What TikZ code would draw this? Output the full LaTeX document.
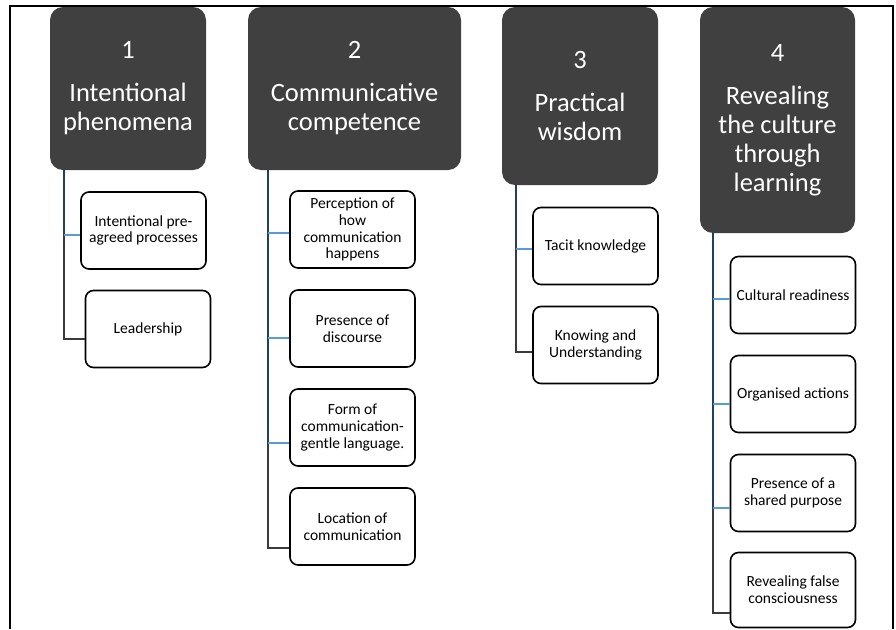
\documentclass[tikz,border=0pt]{standalone}
\usepackage{fontspec}
\setmainfont{Carlito}
\usetikzlibrary{calc}
\definecolor{headfill}{HTML}{404040}
\definecolor{branchblue}{HTML}{5B9BD5}
\definecolor{trunkblue}{HTML}{22405E}
\definecolor{trunkgrey}{HTML}{3A3A3A}
\tikzset{
  headbox/.style={rectangle, rounded corners=13pt, fill=headfill, draw=none,
    text=white, align=center, font=\fontsize{26.5}{29}\selectfont, inner sep=0pt},
  itembox/.style={rectangle, rounded corners=8pt, draw=black, line width=1.6pt,
    fill=white, align=center, font=\fontsize{15.5}{16.8}\selectfont,
    minimum width=125pt, minimum height=77pt, inner sep=0pt},
  trunk/.style={draw=trunkgrey, line width=1.2pt},
  trunkup/.style={draw=trunkblue, line width=1.3pt},
  twig/.style={draw=branchblue, line width=1.5pt},
  frame/.style={draw=black, line width=1.4pt}
}
\begin{document}
\begin{tikzpicture}[x=1pt,y=-1pt]
\useasboundingbox (0,0) rectangle (896,629);
\fill[white] (0,0) rectangle (896,629);

% outer frame (open at the bottom)
\draw[frame] (10,629) -- (10,6) -- (893,6) -- (893,629);

% category headers
\node[headbox, minimum width=156pt, minimum height=163pt] (h1) at (128,88.5)
  {1\\[14pt]Intentional\\phenomena};
\node[headbox, minimum width=213pt, minimum height=163pt] (h2) at (354.5,88.5)
  {2\\[14pt]Communicative\\competence};
\node[headbox, minimum width=156pt, minimum height=178pt] (h3) at (580,96)
  {3\\[14pt]Practical\\wisdom};
\node[headbox, minimum width=155pt, minimum height=226pt] (h4) at (777.5,120)
  {4\\[14pt]Revealing\\the culture\\through\\learning};

% items under header 1
\node[itembox] (a1) at (143.5,230.5) {Intentional pre-\\agreed processes};
\node[itembox] (a2) at (148,329) {Leadership};

% items under header 2
\node[itembox] (b1) at (352.5,229.5) {Perception of\\how\\communication\\happens};
\node[itembox] (b2) at (352.5,328.5) {Presence of\\discourse};
\node[itembox] (b3) at (352.5,427.5) {Form of\\communication-\\gentle language.};
\node[itembox] (b4) at (352.5,526.5) {Location of\\communication};

% items under header 3
\node[itembox] (c1) at (595.5,246) {Tacit knowledge};
\node[itembox] (c2) at (595.5,345) {Knowing and\\Understanding};

% items under header 4
\node[itembox] (d1) at (793,295) {Cultural readiness};
\node[itembox] (d2) at (793,394) {Organised actions};
\node[itembox] (d3) at (793,493) {Presence of a\\shared purpose};
\node[itembox, minimum height=75pt] (d4) at (793,590) {Revealing false\\consciousness};

% trunk x positions
\coordinate (t1) at (64,0);
\coordinate (t2) at (268,0);
\coordinate (t3) at (516,0);
\coordinate (t4) at (713,0);

% connectors, header 1
\draw[trunk] (h1.south -| t1) |- ($(a2.west)+(0,10)$);
\draw[trunkup] (h1.south -| t1) -- ($(a1.west -| t1)+(0,4.5)$);
\draw[twig] ($(a1.west -| t1)+(0,4.5)$) -- ($(a1.west)+(0,4.5)$);

% connectors, header 2
\draw[trunk] (h2.south -| t2) |- ($(b4.west)+(0,21.5)$);
\draw[trunkup] (h2.south -| t2) -- ($(b3.west -| t2)+(0,15.5)$);
\draw[twig] ($(b1.west -| t2)+(0,3.5)$) -- ($(b1.west)+(0,3.5)$);
\draw[twig] ($(b2.west -| t2)+(0,9.5)$) -- ($(b2.west)+(0,9.5)$);
\draw[twig] ($(b3.west -| t2)+(0,15.5)$) -- ($(b3.west)+(0,15.5)$);

% connectors, header 3
\draw[trunk] (h3.south -| t3) |- ($(c2.west)+(0,7)$);
\draw[trunkup] (h3.south -| t3) -- ($(c1.west -| t3)+(0,3)$);
\draw[twig] ($(c1.west -| t3)+(0,3)$) -- ($(c1.west)+(0,3)$);

% connectors, header 4
\draw[trunk] (h4.south -| t4) |- ($(d4.west)+(0,23)$);
\draw[trunkup] (h4.south -| t4) -- ($(d3.west -| t4)+(0,15)$);
\draw[twig] ($(d1.west -| t4)+(0,4)$) -- ($(d1.west)+(0,4)$);
\draw[twig] ($(d2.west -| t4)+(0,10)$) -- ($(d2.west)+(0,10)$);
\draw[twig] ($(d3.west -| t4)+(0,15)$) -- ($(d3.west)+(0,15)$);
\end{tikzpicture}
\end{document}
